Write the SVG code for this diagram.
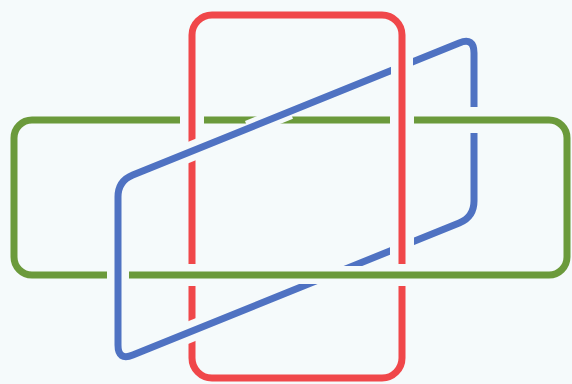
<svg xmlns="http://www.w3.org/2000/svg" width="572" height="384" viewBox="0 0 572 384">
<style>
.ring{fill:none;stroke-width:7;stroke-linejoin:round}
.red{stroke:#f0474a}
.blue{stroke:#4f72c2}
.green{stroke:#6b9a3b}
.cut{fill:none;stroke:#000;stroke-linecap:butt}
</style>
<defs>
<mask id="mGreen" maskUnits="userSpaceOnUse" x="0" y="0" width="572" height="384">
<rect width="572" height="384" fill="#fff"/>
<path class="cut" stroke-width="24" d="M192,106 V134"/>
<path class="cut" stroke-width="24" d="M402,106 V134"/>
<path class="cut" stroke-width="16" d="M248,128.4 L290,111.4"/>
<path class="cut" stroke-width="22" d="M118,262 V288"/>
</mask>
<mask id="mRed" maskUnits="userSpaceOnUse" x="0" y="0" width="572" height="384">
<rect width="572" height="384" fill="#fff"/>
<path class="cut" stroke-width="20" d="M176,157.5 L208,144.6"/>
<path class="cut" stroke-width="22" d="M178,275 H208"/>
<path class="cut" stroke-width="22" d="M387,275 H417"/>
<path class="cut" stroke-width="21" d="M178,336.7 L208,324.6"/>
</mask>
<mask id="mBlue" maskUnits="userSpaceOnUse" x="0" y="0" width="572" height="384">
<rect width="572" height="384" fill="#fff"/>
<path class="cut" stroke-width="22" d="M402,48 V84"/>
<path class="cut" stroke-width="26" d="M456,120 H492"/>
<path class="cut" stroke-width="18" d="M286,275 H366"/>
<path class="cut" stroke-width="24" d="M402,228 V264"/>
</mask>
</defs>
<rect width="572" height="384" fill="#f5fafb"/>
<g id="green-ring"><rect class="ring green" x="14" y="120" width="553" height="155" rx="18" mask="url(#mGreen)"/></g>
<g id="red-ring"><rect class="ring red" x="192" y="15" width="210" height="363" rx="20" mask="url(#mRed)"/></g>
<g id="blue-ring"><path class="ring blue" mask="url(#mBlue)" d="M132.8,175 L459.2,43 Q474,37 474,53 L474,201 Q474,217 459.2,223 L132.8,355 Q118,361 118,345 L118,197 Q118,181 132.8,175 Z"/></g>
</svg>
